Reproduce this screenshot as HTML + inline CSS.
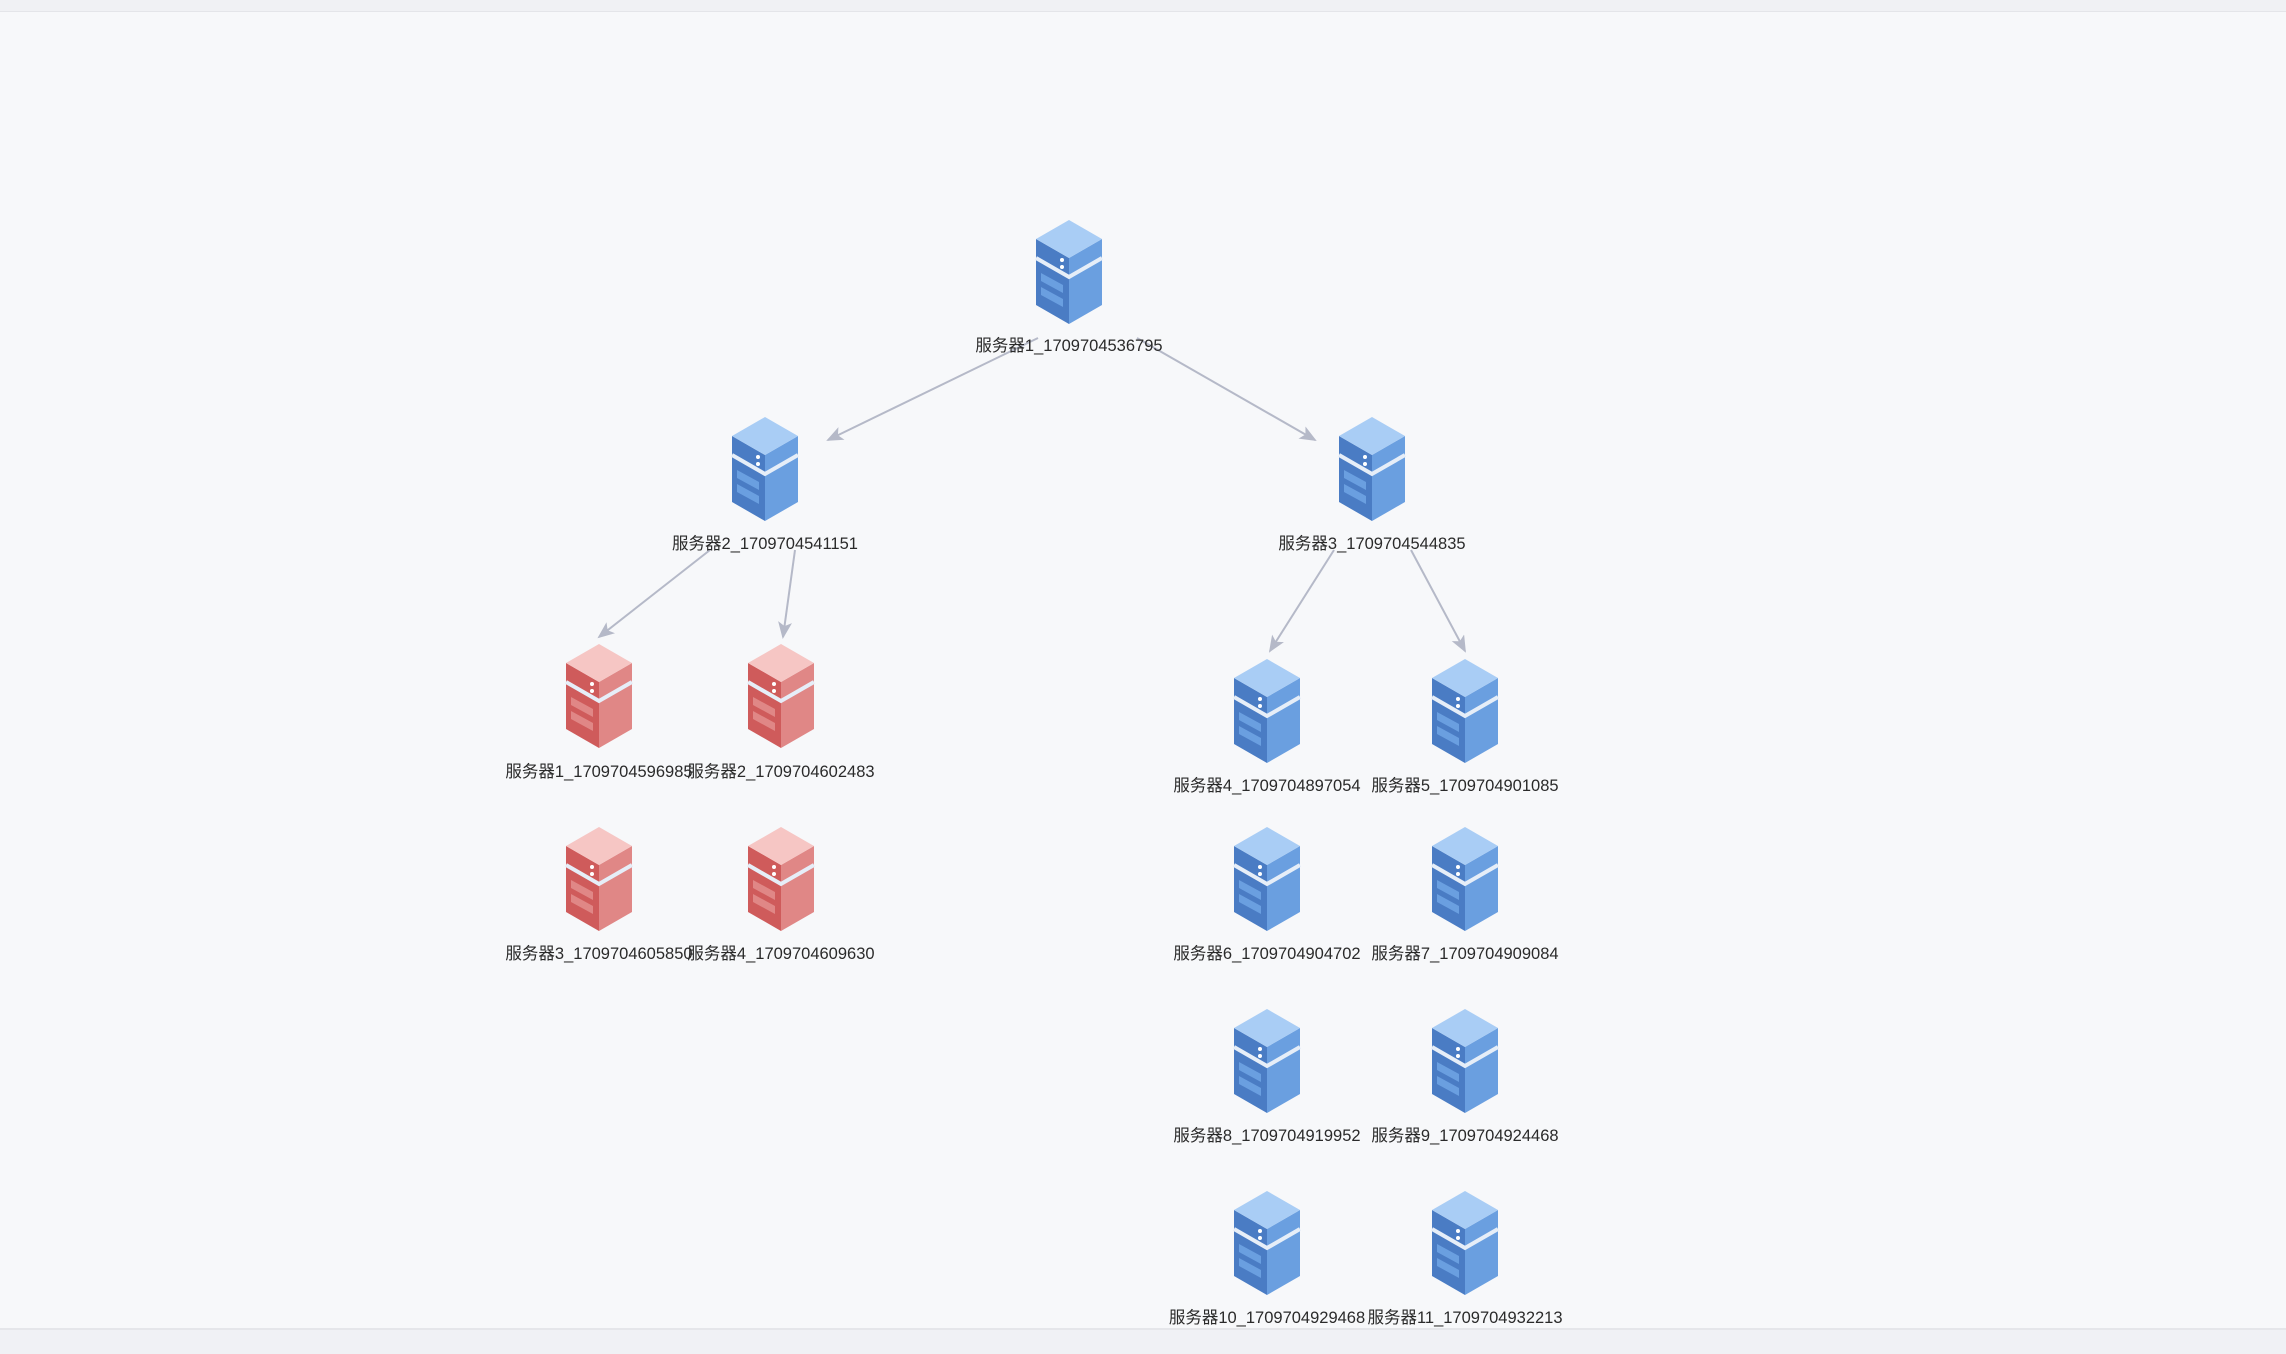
<!DOCTYPE html>
<html><head><meta charset="utf-8"><style>
html,body{margin:0;padding:0}
body{width:2286px;height:1352px;background:#f7f8fa;position:relative;overflow:hidden;font-family:"Liberation Sans","Noto Sans CJK SC",sans-serif}
.top{position:absolute;left:0;top:0;width:2286px;height:11px;background:#f0f1f4;border-bottom:1px solid #e4e5e9}
.bot{position:absolute;left:0;top:1328px;width:2286px;height:24px;background:#f0f1f5;border-top:2px solid #e5e6ea}
.lbl{position:absolute;width:240px;text-align:center;font-size:16.5px;color:#2a2a2a;line-height:20px}
svg{position:absolute;left:0;top:0}
</style></head><body>
<div class="top"></div>
<svg width="2286" height="1352">
<defs>
<g id="srv">
<polygon points="0,19 33,38 33,104 0,85" fill="var(--l)"/>
<polygon points="66,19 33,38 33,104 66,85" fill="var(--r)"/>
<polygon points="33,0 66,19 33,38 0,19" fill="var(--t)"/>
<polyline points="0,38 33,57 66,38" fill="none" stroke="#e6eef8" stroke-width="4"/>
<circle cx="26" cy="40" r="2" fill="#fff"/><circle cx="26" cy="47" r="2" fill="#fff"/>
<polygon points="5,53 27,65 27,73 5,61" fill="var(--r)"/>
<polygon points="5,67 27,79 27,87 5,75" fill="var(--r)"/>
</g>
<marker id="a" markerWidth="20" markerHeight="16" refX="15" refY="7" orient="auto" markerUnits="userSpaceOnUse"><path d="M0,0 L17,7 L0,14 L4,7 Z" fill="#b5b9c8"/></marker>
</defs>
<g stroke="#b5b9c8" stroke-width="2" marker-end="url(#a)">
<line x1="1038" y1="338" x2="828" y2="440"/>
<line x1="1137" y1="338" x2="1315" y2="440"/>
<line x1="710" y1="550" x2="599" y2="637"/>
<line x1="795" y1="550" x2="783" y2="637"/>
<line x1="1334" y1="550" x2="1270" y2="651"/>
<line x1="1411" y1="550" x2="1465" y2="651"/>
</g>
<g style="--t:#a9cdf5;--l:#4a7cc4;--r:#6a9fe0">
<use href="#srv" x="1036" y="220"/>
<use href="#srv" x="732" y="417"/>
<use href="#srv" x="1339" y="417"/>
<use href="#srv" x="1234" y="659"/><use href="#srv" x="1432" y="659"/>
<use href="#srv" x="1234" y="827"/><use href="#srv" x="1432" y="827"/>
<use href="#srv" x="1234" y="1009"/><use href="#srv" x="1432" y="1009"/>
<use href="#srv" x="1234" y="1191"/><use href="#srv" x="1432" y="1191"/>
</g>
<g style="--t:#f6c6c4;--l:#cf5b5b;--r:#e08786">
<use href="#srv" x="566" y="644"/><use href="#srv" x="748" y="644"/>
<use href="#srv" x="566" y="827"/><use href="#srv" x="748" y="827"/>
</g>
</svg>
<div class="lbl" style="left:949px;top:336px">服务器1_1709704536795</div>
<div class="lbl" style="left:645px;top:534px">服务器2_1709704541151</div>
<div class="lbl" style="left:1252px;top:534px">服务器3_1709704544835</div>
<div class="lbl" style="left:479px;top:762px">服务器1_1709704596985</div>
<div class="lbl" style="left:661px;top:762px">服务器2_1709704602483</div>
<div class="lbl" style="left:479px;top:944px">服务器3_1709704605850</div>
<div class="lbl" style="left:661px;top:944px">服务器4_1709704609630</div>
<div class="lbl" style="left:1147px;top:776px">服务器4_1709704897054</div>
<div class="lbl" style="left:1345px;top:776px">服务器5_1709704901085</div>
<div class="lbl" style="left:1147px;top:944px">服务器6_1709704904702</div>
<div class="lbl" style="left:1345px;top:944px">服务器7_1709704909084</div>
<div class="lbl" style="left:1147px;top:1126px">服务器8_1709704919952</div>
<div class="lbl" style="left:1345px;top:1126px">服务器9_1709704924468</div>
<div class="lbl" style="left:1147px;top:1308px">服务器10_1709704929468</div>
<div class="lbl" style="left:1345px;top:1308px">服务器11_1709704932213</div>
<div class="bot"></div>
</body></html>
